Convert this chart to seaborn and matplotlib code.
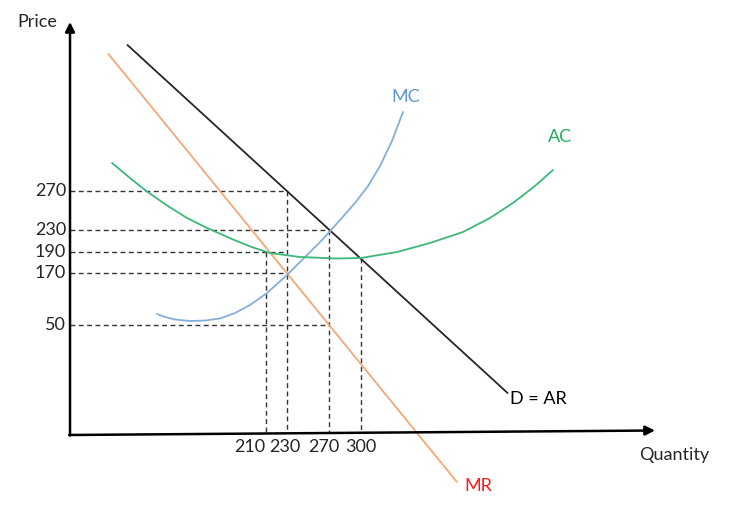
import numpy as np
import pandas as pd
import matplotlib
matplotlib.use("Agg")
import matplotlib.pyplot as plt
import seaborn as sns

d_q = [79, 439]
d_h = [390, 42]
mr_q = [61, 391]
mr_h = [381, -47]
mc_q = [107, 114.6, 124.1, 138.3, 152.5, 166.7, 180.9, 195.1, 211.2, 230.1,
        247.2, 263.3, 280.3, 294.5, 306.8, 318.2, 329.5, 340]
mc_h = [121, 118, 115.5, 114, 114.5, 116.5, 122, 130, 142, 160,
        178, 195, 215, 232, 249, 269, 294, 323]
ac_q = [64.4, 81.4, 97.5, 116.5, 135.4, 154.4, 179, 197.9, 214, 242.4,
        277.5, 300.2, 334.3, 365.5, 396.8, 422.3, 444.1, 464.9, 482]
ac_h = [272, 257, 243.5, 229.5, 217, 207, 195.5, 187.5, 182, 178,
        176.5, 177, 183, 192, 203, 217, 232, 249, 265]

# price levels: label, curve it comes from, quantity on that curve, where the guide stops
price_labels = [270, 230, 190, 170, 50]
price_curve = ["D", "D", "AC", "MR", "MR"]
price_at_q = [230, 270, 210, 230, 270]
price_stop_q = [230, 270, 230, 230, 270]

# quantity levels: label, curve the guide starts from
qty_labels = [210, 230, 270, 300]
qty_curve = ["AC", "D", "D", "AC"]

curves = {
    "D": (d_q, d_h, "#262626", "D = AR", "#000000"),
    "MR": (mr_q, mr_h, "#f2a878", "MR", "#ff1a1a"),
    "MC": (mc_q, mc_h, "#86aedb", "MC", "#5f95d0"),
    "AC": (ac_q, ac_h, "#3cb878", "AC", "#1fae58"),
}
label_offsets = {"D": (2, -6, "left"), "MR": (21, -4, "center"),
                 "MC": (3, 15, "center"), "AC": (7, 33, "center")}
# small sideways nudges so the crowded quantity labels don't touch
qty_nudge = {210: (0, "right"), 230: (-2, "center"), 270: (-5, "center"), 300: (0, "center")}


def height_on(name, q):
    xs, ys = curves[name][0], curves[name][1]
    return float(np.interp(q, xs, ys))


sns.set_style("white")
plt.rcParams["font.family"] = ["Lato", "DejaVu Sans"]
fs = 13

fig = plt.figure(figsize=(7.46, 5.15), dpi=100)
ax = fig.add_axes([0, 0, 1, 1])
ax.set_xlim(-41.7, 664.8)
ax.set_ylim(-80, 435)
ax.axis("off")

q_axis = 24.6
guide = dict(color="#333333", lw=1.0, ls=(0, (3.5, 2.5)))

for lab, cname, q, stop in zip(price_labels, price_curve, price_at_q, price_stop_q):
    h = height_on(cname, q)
    ax.plot([q_axis, stop], [h, h], **guide)
    ax.text(q_axis - 3.8, h, str(lab), ha="right", va="center", fontsize=fs)

for lab, cname in zip(qty_labels, qty_curve):
    h = height_on(cname, lab)
    ax.plot([lab, lab], [h, 2], **guide)
    dx, ha = qty_nudge[lab]
    ax.annotate(str(lab), xy=(lab, -12), xytext=(dx, 0), textcoords="offset pixels",
                ha=ha, va="center", fontsize=fs)

for name, (xs, ys, col, text, tcol) in curves.items():
    df = pd.DataFrame({"q": xs, "h": ys})
    sns.lineplot(data=df, x="q", y="h", sort=False, estimator=None,
                 color=col, lw=1.3, ax=ax)
    dx, dy, ha = label_offsets[name]
    ax.annotate(text, xy=(xs[-1], ys[-1]), xytext=(dx, dy), textcoords="offset pixels",
                ha=ha, va="center", color=tcol, fontsize=fs)

arrow = dict(arrowstyle="-|>", lw=1.8, color="black", mutation_scale=14,
             shrinkA=0, shrinkB=0)
ax.annotate("", xy=(q_axis, 413), xytext=(q_axis, -0.5), arrowprops=arrow)
ax.annotate("", xy=(578.6, 4.5), xytext=(q_axis - 0.8, 0), arrowprops=arrow)

ax.text(-6.6, 413, "Price", ha="center", va="center", fontsize=fs)
ax.text(596.6, -20, "Quantity", ha="center", va="center", fontsize=fs)

fig.savefig("out.png", dpi=100)
